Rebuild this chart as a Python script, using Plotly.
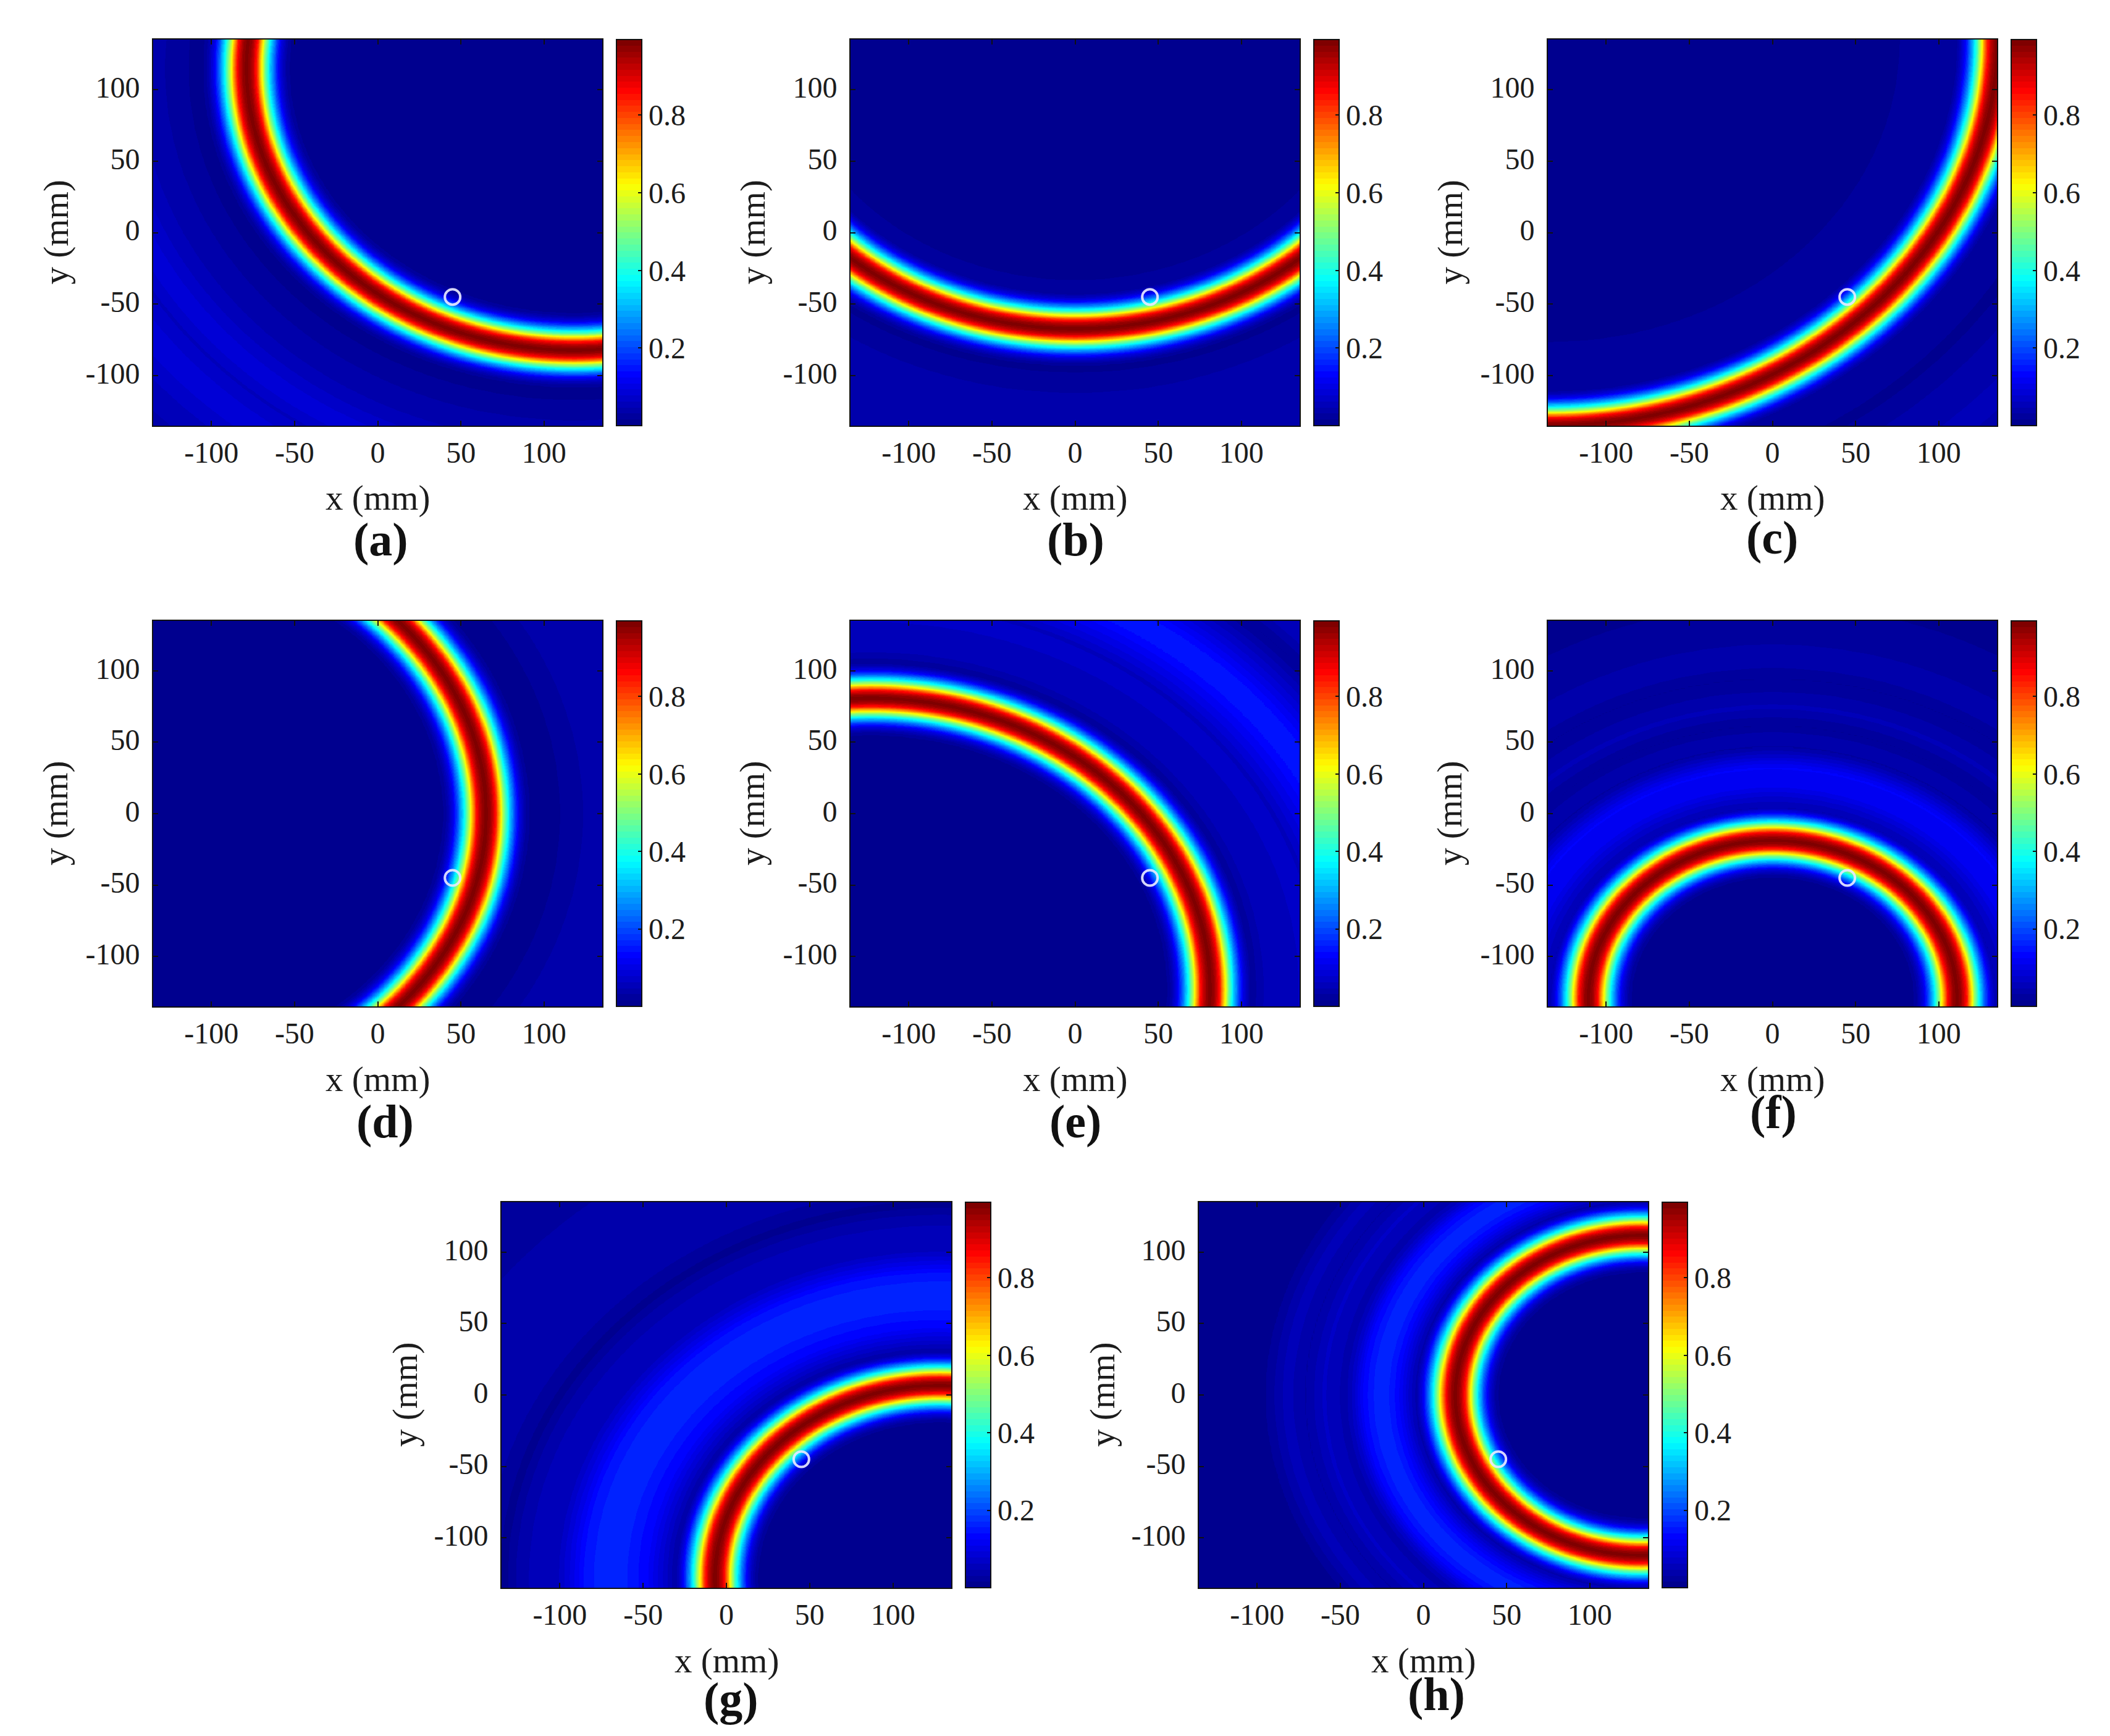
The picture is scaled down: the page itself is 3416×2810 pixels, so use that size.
import numpy as np
import plotly.graph_objects as go

W, H = 3416, 2810

tick_vals = [-100, -50, 0, 50, 100]
tick_text = ["-100", "-50", "0", "50", "100"]
cbar_vals = [0.2, 0.4, 0.6, 0.8]
cbar_text = ["0.2", "0.4", "0.6", "0.8"]
panel_names = ["(a)", "(b)", "(c)", "(d)", "(e)", "(f)", "(g)", "(h)"]

# target point, same in every panel
target_x = [45]
target_y = [-45]

# ring centre and radius (mm)
ring_x = [118, 0, -135, -134, -123, 0, 128, 131]
ring_y = [115, 143, 135, 0, -123, -129.4, -128, 0]
ring_r = [197, 210, 270, 199, 204, 110.8, 135, 112]

# main lobe, amplitude against distance from the ring (mm)
main_offset = [0, 2, 4, 6, 8, 10, 12, 14, 16, 18, 20, 22, 24, 26, 30]
main_z = [0.99, 0.97, 0.92, 0.84, 0.70, 0.56, 0.44, 0.34, 0.25, 0.17, 0.10, 0.06, 0.03, 0.015, 0.005]

# faint side lobes, amplitude against radius (mm)
lobe_r_a = [130, 150, 170, 225, 245, 265, 285, 298, 315, 335, 360, 390]
lobe_z_a = [.005, .008, .012, .008, .03, .05, .09, .06, .09, .06, .035, .02]
lobe_r_b = [140, 170, 180, 237, 250, 262, 285, 320]
lobe_z_b = [.005, .012, .018, .012, .025, .04, .035, .03]
lobe_r_c = [200, 214, 240, 300, 321, 345, 366, 390]
lobe_z_c = [.005, .018, .022, .03, .012, .04, .05, .04]
lobe_r_d = [130, 239, 255, 275, 295, 340]
lobe_z_d = [.004, .01, .03, .04, .035, .03]
lobe_r_e = [120, 170, 230, 240, 250, 262, 272, 283, 295, 310, 325, 343, 358, 380]
lobe_z_e = [.004, .004, .025, .06, .05, .07, .06, .10, .14, .14, .08, .015, .06, .03]
lobe_r_f = [50, 85, 130, 140, 150, 162, 170, 176, 184, 191, 204, 224, 238, 256, 300]
lobe_z_f = [.004, .012, .03, .07, .12, .125, .07, .03, .04, .015, .05, .015, .045, .02, .01]
lobe_r_g = [60, 100, 158, 165, 175, 187, 200, 212, 221, 229, 240, 250, 261, 275, 305, 345, 385]
lobe_z_g = [.004, .01, .03, .07, .125, .155, .165, .15, .10, .06, .05, .045, .01, .035, .035, .03, .02]
lobe_r_h = [50, 80, 133, 138, 145, 151, 160, 167, 173, 178, 191, 202, 213, 226, 260, 300]
lobe_z_h = [.004, .012, .025, .06, .12, .155, .16, .13, .07, .04, .065, .03, .055, .015, .008, .006]

lobes_r = [lobe_r_a, lobe_r_b, lobe_r_c, lobe_r_d, lobe_r_e, lobe_r_f, lobe_r_g, lobe_r_h]
lobes_z = [lobe_z_a, lobe_z_b, lobe_z_c, lobe_z_d, lobe_z_e, lobe_z_f, lobe_z_g, lobe_z_h]

# panel boxes in page pixels: left, right, top, bottom, colorbar left
boxes = [
    (248, 975, 64, 689, 998), (1377, 2104, 64, 689, 2127), (2506, 3233, 64, 689, 3256),
    (248, 975, 1005, 1629, 998), (1377, 2104, 1005, 1629, 2127), (2506, 3233, 1005, 1629, 3256),
    (812, 1540, 1946, 2570, 1563), (1941, 2668, 1946, 2570, 2691),
]
# centres of the caption and the axis titles, page pixels
caption_xy = [(616, 874), (1741, 874), (2869, 870), (623, 1815), (1741, 1815), (2871, 1800),
              (1183, 2750), (2325, 2742)]
xtitle_y = [806, 806, 806, 1747, 1747, 1747, 2688, 2688]
ytitle_x = [90, 1218, 2347, 90, 1218, 2347, 656, 1785]

# jet in 64 flat steps, like the reference colorbar
stops = [0, .125, .375, .625, .875, 1]
jet = []
for i in range(64):
    t = i / 63
    r = np.interp(t, stops, [0, 0, 0, 1, 1, .5])
    g = np.interp(t, stops, [0, 0, 1, 1, 0, 0])
    b = np.interp(t, stops, [.5625, 1, 1, 0, 0, 0])
    c = f"rgb({int(r * 255)},{int(g * 255)},{int(b * 255)})"
    jet += [[i / 64, c], [(i + 1) / 64, c]]

axis_font = dict(family="Liberation Serif", size=48, color="#1c1c1c")
grid = np.arange(-135, 136, 1.0)
xx, yy = np.meshgrid(grid, grid)

fig = go.Figure()
annotations = []
layout = {}
for i, (x0, x1, y0, y1, cb) in enumerate(boxes):
    n = "" if i == 0 else str(i + 1)
    dist = np.hypot(xx - ring_x[i], yy - ring_y[i])
    z = np.maximum(np.interp(np.abs(dist - ring_r[i]), main_offset, main_z),
                   np.interp(dist, lobes_r[i], lobes_z[i]))
    fig.add_trace(go.Heatmap(
        x=grid, y=grid, z=z, zmin=0, zmax=0.995, zsmooth="best", colorscale=jet,
        xaxis="x" + n, yaxis="y" + n, hoverinfo="skip",
        colorbar=dict(
            x=cb / W, xanchor="left", xpad=0, y=1 - y0 / H, yanchor="top", ypad=0,
            len=(y1 - y0) / H, lenmode="fraction", thickness=41, thicknessmode="pixels",
            outlinecolor="#111111", outlinewidth=2, borderwidth=0,
            tickvals=cbar_vals, ticktext=cbar_text, ticks="inside", ticklen=7, tickwidth=2,
            tickcolor="#111111", tickfont=axis_font,
        ),
    ))
    ring_colour = "rgba(232,232,255,0.92)"
    fig.add_trace(go.Scatter(
        x=target_x, y=target_y, mode="markers", xaxis="x" + n, yaxis="y" + n,
        marker=dict(symbol="circle-open", size=25, color=ring_colour, line=dict(width=4, color=ring_colour)),
        showlegend=False, hoverinfo="skip",
    ))
    common = dict(
        range=[-135, 135], tickvals=tick_vals, ticktext=tick_text, ticks="inside", ticklen=8,
        tickwidth=2, tickcolor="#111111", tickfont=axis_font, showgrid=False, zeroline=False,
        showline=True, linecolor="#111111", linewidth=2, mirror="allticks",
    )
    layout["xaxis" + n] = dict(common, domain=[x0 / W, x1 / W], anchor="y" + n, ticklabelstandoff=0)
    layout["yaxis" + n] = dict(common, domain=[1 - y1 / H, 1 - y0 / H], anchor="x" + n,
                               ticklabelstandoff=10, ticklabelshift=-4)
    xc = (x0 + x1) / 2
    annotations.append(dict(x=xc / W, y=1 - xtitle_y[i] / H, text="x (mm)"))
    annotations.append(dict(x=ytitle_x[i] / W, y=1 - (y0 + y1) / 2 / H, text="y (mm)", textangle=-90))
    annotations.append(dict(x=caption_xy[i][0] / W, y=1 - caption_xy[i][1] / H,
                            text="<b>" + panel_names[i] + "</b>",
                            font=dict(family="Liberation Serif", size=76, color="#111111")))

for a in annotations:
    a.update(xref="paper", yref="paper", xanchor="center", yanchor="middle", showarrow=False)
    a.setdefault("font", dict(family="Liberation Serif", size=57, color="#1c1c1c"))

fig.update_layout(
    width=W, height=H, margin=dict(l=0, r=0, t=0, b=0), showlegend=False,
    paper_bgcolor="white", plot_bgcolor="white", annotations=annotations, **layout,
)
fig.write_html("out.html", config=dict(displayModeBar=False),
               post_script="document.body.style.margin='0'")
